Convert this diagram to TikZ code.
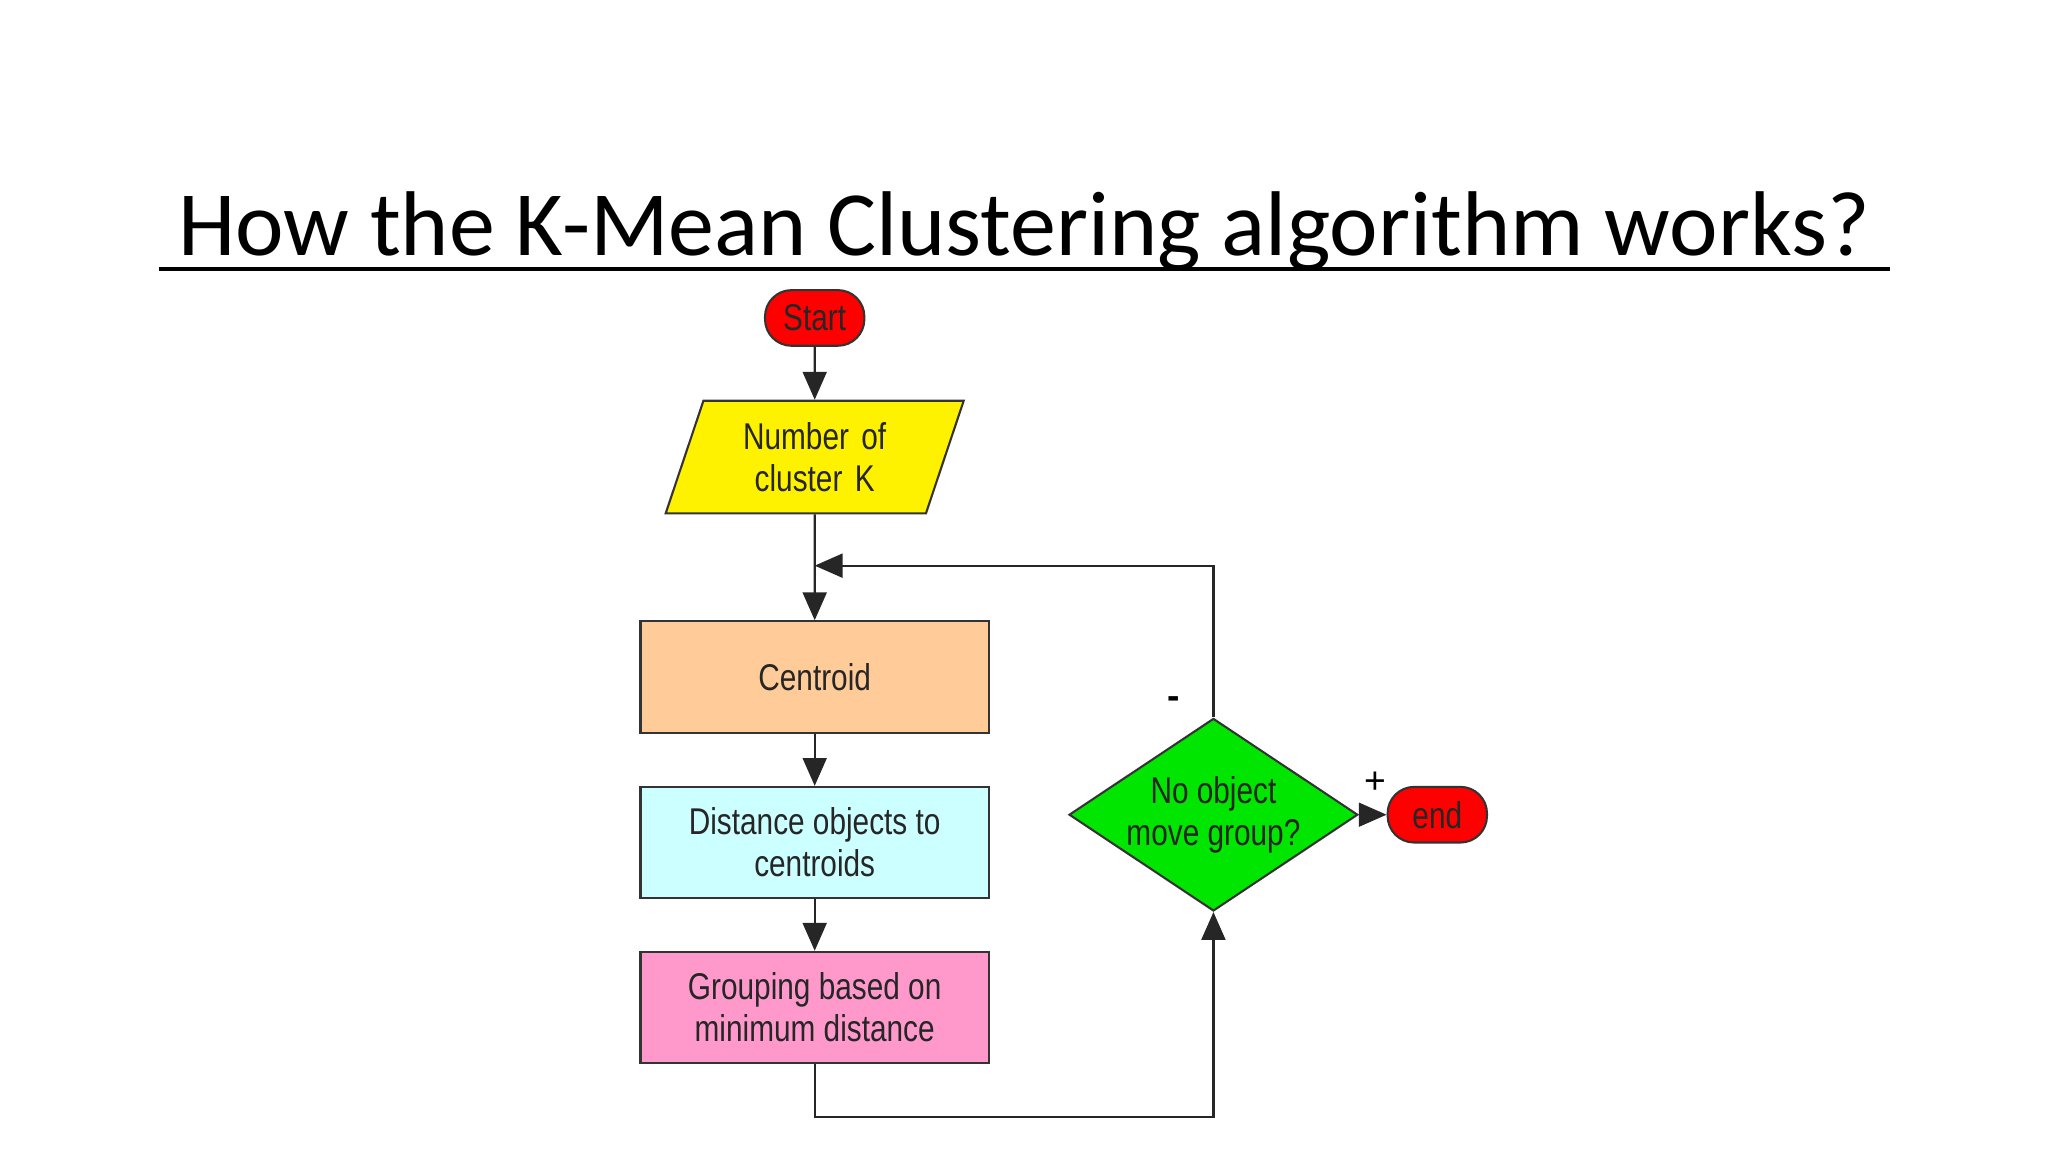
\documentclass[tikz,border=0pt]{standalone}
\usepackage{fontspec}
\setmainfont{Liberation Sans}
\newfontfamily\narrowfont{Liberation Sans}[FakeStretch=0.8]
\newfontfamily\titlefont{Carlito}
\usetikzlibrary{shapes.geometric,arrows.meta}
\begin{document}
\begin{tikzpicture}[x=0.02cm,y=-0.02cm,
  lbl/.style={font=\narrowfont\fontsize{16}{18}\selectfont,align=center,text=black!85},
  box/.style={lbl,draw=black!80,line width=0.9pt,minimum width=5.26cm,minimum height=1.68cm,inner sep=0pt},
  term/.style={lbl,draw=black!80,line width=0.9pt,fill=red,rounded corners=0.4cm,minimum width=1.5cm,minimum height=0.84cm,inner sep=0pt},
  con/.style={draw=black!85,line width=1pt},
  arr/.style={con,-{Triangle[length=0.42cm,width=0.36cm]}}]
\useasboundingbox (0,0) rectangle (1546,870);
\node[font=\titlefont\fontsize{39.5}{48}\selectfont,anchor=base] (title) at (773,193) {How the K-Mean Clustering algorithm works?};
\draw[line width=1.4pt] (120,203) coordinate (ul1) -- (1427,203) coordinate (ul2);
\node[term] (start) at (615,240) {Start};
\node[lbl,trapezium,trapezium left angle=66,trapezium right angle=114,draw=black!80,line width=0.9pt,fill=yellow,minimum width=4.5cm,minimum height=1.7cm,trapezium stretches body,text width=2.6cm] (num) at (615,345) {Number of\\cluster K};
\node[box,fill={rgb,255:red,255;green,204;blue,153}] (cen) at (615,511) {Centroid};
\node[box,fill={rgb,255:red,204;green,255;blue,255}] (dist) at (615,636) {Distance objects to\\centroids};
\node[box,fill={rgb,255:red,255;green,153;blue,204}] (grp) at (615,760.5) {Grouping based on\\minimum distance};
\node[lbl,diamond,draw=black!80,line width=0.9pt,fill={rgb,255:red,0;green,230;blue,0},minimum width=3.7cm,minimum height=2.48cm,aspect=1.5,inner sep=0pt] (dec) at (916,615) {No object\\move group?};
\node[term] (end) at (1085,615) {end};
\coordinate (j) at (615,427);
\coordinate (tr) at (916,427);
\coordinate (bl) at (615,843);
\coordinate (br) at (916,843);
\draw[arr] (start) -- (num);
\draw[arr] (num) -- (cen);
\draw[arr] (cen) -- (dist);
\draw[arr] (dist) -- (grp);
\draw[arr] (dec.north) -- (tr) -- (j);
\draw[arr] (grp.south) -- (bl) -- (br) -- (dec.south);
\draw[arr] (dec.east) -- (end.west);
\node[font=\fontsize{16}{16}\selectfont\bfseries] (minus) at (886,530) {-};
\node[font=\fontsize{16}{16}\selectfont] (plus) at (1038,591) {+};
\end{tikzpicture}
\end{document}
